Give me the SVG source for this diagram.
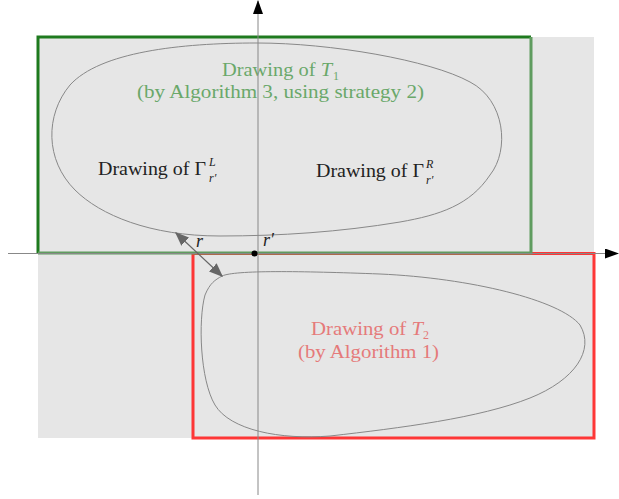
<svg xmlns="http://www.w3.org/2000/svg" width="619" height="499" viewBox="0 0 619 499">
<defs>
<marker id="ah" viewBox="0 0 14 10" refX="13" refY="5" markerWidth="14" markerHeight="10" markerUnits="userSpaceOnUse" orient="auto-start-reverse">
<path d="M0,0 L14,5 L0,10 Z" fill="#000"/>
</marker>
<marker id="gh" viewBox="0 0 10 10" refX="9" refY="5" markerWidth="14" markerHeight="14" markerUnits="userSpaceOnUse" orient="auto-start-reverse">
<path d="M0,1 L10,5 L0,9 Z" fill="#666"/>
</marker>
</defs>
<style>
text{font-family:"Liberation Serif","DejaVu Serif",serif;font-size:18px}
.blob{fill:none;stroke:#888;stroke-width:1}
.g{fill:#6aa86a}
.r{fill:#e57a7a}
.k{fill:#222}
.it{font-style:italic}
.sm{font-size:12px}
</style>
<rect x="38" y="37" width="556" height="401" fill="#e6e6e6"/>
<g id="T2">
<rect x="193" y="253.5" width="401" height="184.5" fill="none" stroke="#f22" stroke-width="3" stroke-opacity="0.9"/>
<path class="blob" d="M 222,276 C 235,270 300,271 380,274 C 470,278 560,300 580,325 C 595,350 575,380 530,398 C 480,418 400,428 330,436 C 280,440 230,430 215,405 C 200,380 198,320 205,295 C 210,283 215,280 222,276 Z"/>
<text class="r" x="311" y="335" textLength="112" lengthAdjust="spacingAndGlyphs">Drawing of <tspan class="it">T</tspan></text>
<text class="r sm" x="423" y="339">2</text>
<text class="r" x="298" y="358" textLength="141" lengthAdjust="spacingAndGlyphs">(by Algorithm 1)</text>
</g>
<g id="T1">
<path d="M38,253 L38,37 L531,37" fill="none" stroke="#1e7a1e" stroke-width="3"/>
<path d="M531,37 L531,253 L38,253" fill="none" stroke="#5f9c5f" stroke-width="3"/>
<path class="blob" d="M 257,43 C 330,43 430,60 470,82 C 505,100 510,150 490,175 C 470,205 440,215 400,222 C 340,232 280,236 220,236 C 150,236 100,215 75,190 C 45,160 45,115 70,85 C 100,52 180,43 257,43 Z"/>
<text class="g" x="222" y="76" textLength="110" lengthAdjust="spacingAndGlyphs">Drawing of <tspan class="it">T</tspan></text>
<text class="g sm" x="333" y="80">1</text>
<text class="g" x="137" y="98" textLength="287" lengthAdjust="spacingAndGlyphs">(by Algorithm 3, using strategy 2)</text>
</g>
<g id="GammaL">
<text class="k" x="98" y="175" textLength="108" lengthAdjust="spacingAndGlyphs">Drawing of Γ</text>
<text class="k sm it" x="209" y="166">L</text>
<text class="k sm it" x="209" y="182">r′</text>
</g>
<g id="GammaR">
<text class="k" x="316" y="177" textLength="108" lengthAdjust="spacingAndGlyphs">Drawing of Γ</text>
<text class="k sm it" x="426" y="168">R</text>
<text class="k sm it" x="426" y="184">r′</text>
</g>
<g id="connectors">
<line x1="258" y1="495" x2="258" y2="1" stroke="#888" stroke-width="1" marker-end="url(#ah)"/>
<line x1="8" y1="253.5" x2="618" y2="253.5" stroke="#888" stroke-width="1" marker-end="url(#ah)"/>
<line x1="176" y1="233" x2="222" y2="276" stroke="#666" stroke-width="1.2" marker-start="url(#gh)" marker-end="url(#gh)"/>
</g>
<g id="points">
<circle cx="254.5" cy="253.5" r="3" fill="#000"/>
<text class="k it" x="196" y="247" font-size="16">r</text>
<text class="k it" x="263" y="246" font-size="16">r′</text>
</g>
</svg>
